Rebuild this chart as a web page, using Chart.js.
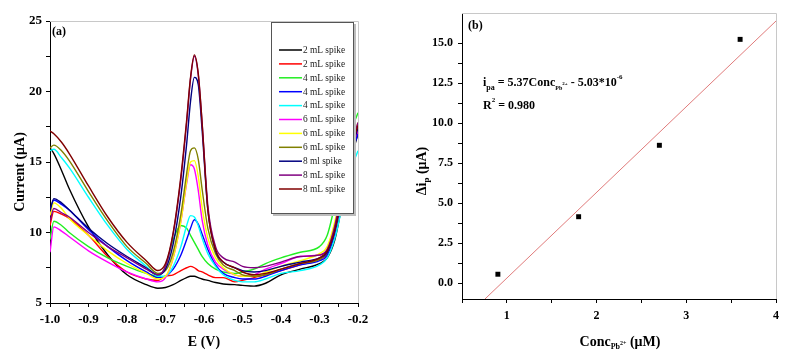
<!DOCTYPE html>
<html>
<head>
<meta charset="utf-8">
<script src="https://cdn.jsdelivr.net/npm/chart.js@4.4.1/dist/chart.umd.min.js"></script>
<style>
  html, body { margin: 0; padding: 0; background: #fff; }
  #wrap { position: relative; width: 791px; height: 357px; }
  #chartA { position: absolute; left: 0; top: 0; }
  #chartB { position: absolute; left: 400px; top: 0; }
</style>
</head>
<body>
<div id="wrap">
  <canvas id="chartA" width="400" height="357"></canvas>
  <canvas id="chartB" width="391" height="357"></canvas>
</div>
<script>
// (a) voltammogrammes - potencial comum a todas as curvas
const potentialV = [-1.0, -0.99, -0.97, -0.95, -0.9, -0.85, -0.8, -0.75, -0.72, -0.70, -0.68, -0.66,
  -0.645, -0.635, -0.625, -0.615, -0.605, -0.59, -0.57, -0.55, -0.52, -0.50, -0.47, -0.44,
  -0.40, -0.35, -0.30, -0.28, -0.26, -0.24, -0.22, -0.20];

const spikeLabels = ['2 mL spike', '2 mL spike', '4 mL spike', '4 mL spike', '4 mL spike',
  '6 mL spike', '6 mL spike', '6 mL spike', '8 ml spike', '8 mL spike', '8 mL spike'];

const black2 = [16.0, 15.6, 14.4, 13.1, 10.4, 8.4, 7.0, 6.3, 6.05, 6.1, 6.3, 6.6, 6.8, 6.9, 6.9, 6.8, 6.7, 6.6, 6.45, 6.35, 6.3, 6.25, 6.2, 6.4, 7.0, 7.4, 7.8, 8.2, 9.5, 12.2, 15.0, 17.0];
const red2 = [10.5, 11.5, 11.3, 11.0, 9.8, 8.3, 7.2, 6.7, 6.6, 6.9, 7.0, 7.3, 7.5, 7.6, 7.5, 7.3, 7.2, 7.0, 6.8, 6.8, 6.5, 6.6, 6.8, 7.0, 7.3, 7.7, 8.1, 8.5, 10.0, 12.8, 15.4, 17.2];
const green4 = [9.5, 10.8, 10.5, 10.0, 9.0, 8.2, 7.6, 7.1, 6.9, 7.6, 9.5, 10.5, 10.3, 9.8, 9.3, 8.8, 8.3, 7.8, 7.4, 7.2, 7.1, 7.2, 7.4, 7.8, 8.2, 8.6, 9.0, 9.8, 12.0, 14.8, 17.0, 18.5];
const blue4 = [11.5, 12.3, 12.0, 11.6, 10.2, 9.0, 8.0, 7.2, 6.8, 6.9, 7.4, 8.4, 9.5, 10.3, 10.9, 10.6, 9.9, 8.8, 7.7, 7.1, 6.8, 6.7, 6.7, 6.9, 7.3, 7.7, 8.0, 8.4, 10.0, 12.8, 15.3, 17.0];
const cyan4 = [15.8, 15.9, 15.3, 14.6, 12.5, 10.5, 8.8, 7.6, 6.9, 6.9, 7.6, 9.0, 10.5, 11.2, 11.1, 10.5, 9.6, 8.5, 7.6, 7.0, 6.6, 6.5, 6.5, 6.7, 7.1, 7.3, 7.7, 8.2, 9.6, 12.0, 14.3, 15.8];
const magenta6 = [8.6, 10.4, 10.1, 9.7, 8.7, 7.9, 7.2, 6.7, 6.5, 6.8, 8.2, 10.8, 13.5, 14.8, 14.5, 13.0, 10.9, 9.1, 7.9, 7.4, 7.0, 6.9, 7.0, 7.4, 7.8, 8.3, 8.4, 8.8, 10.5, 13.2, 15.7, 17.3];
const yellow6 = [11.2, 12.1, 11.7, 11.0, 9.8, 8.7, 7.8, 7.1, 6.7, 6.9, 8.2, 10.8, 13.6, 15.0, 15.1, 14.0, 11.8, 9.6, 8.2, 7.5, 7.0, 6.9, 6.9, 7.2, 7.6, 8.0, 8.5, 9.0, 10.8, 13.5, 16.0, 17.8];
const olive6 = [16.0, 16.2, 15.8, 15.1, 12.9, 10.8, 9.0, 7.8, 7.1, 7.3, 8.6, 11.3, 14.2, 15.8, 16.0, 15.2, 13.1, 10.3, 8.5, 7.7, 7.3, 7.0, 6.9, 7.0, 7.4, 7.8, 8.1, 8.6, 10.3, 13.2, 15.9, 17.5];
const navy8 = [11.5, 12.4, 12.1, 11.6, 10.3, 9.2, 8.3, 7.5, 7.0, 7.4, 9.2, 12.6, 16.3, 19.3, 21.0, 20.5, 17.3, 11.6, 8.7, 7.9, 7.5, 7.3, 7.2, 7.3, 7.6, 7.9, 8.2, 8.6, 10.2, 13.0, 15.6, 17.4];
const purple8 = [10.8, 11.7, 11.4, 11.1, 10.0, 9.0, 8.2, 7.4, 7.0, 7.6, 9.9, 13.8, 17.8, 20.9, 22.5, 21.2, 17.8, 11.9, 9.0, 8.2, 7.9, 7.6, 7.5, 7.6, 7.9, 8.3, 8.4, 8.8, 10.5, 13.4, 16.0, 17.8];
const maroon8 = [17.2, 17.0, 16.4, 15.6, 13.3, 11.1, 9.3, 8.0, 7.3, 7.8, 10.0, 14.0, 18.0, 21.0, 22.6, 21.3, 17.8, 11.6, 8.8, 7.9, 7.5, 7.2, 7.0, 7.1, 7.4, 7.8, 8.2, 8.7, 10.2, 13.0, 15.8, 17.6];

const spikeCurves = [black2, red2, green4, blue4, cyan4, magenta6, yellow6, olive6, navy8, purple8, maroon8];
const curveColors = ['#000000', '#ff0000', '#22ee22', '#0000ff', '#00ffff', '#ff00ff', '#ffff00', '#808000', '#000080', '#800080', '#800000'];

// (b) calibração
const concPb = [0.9, 1.8, 2.7, 3.6];
const deltaIp = [0.55, 4.15, 8.62, 15.25];
const fitConc = [0.756, 4.0];
const fitIp = [-1.0, 16.4];

const serif = '"Liberation Serif", "Times New Roman", serif';

// Texto com índices / expoentes: parts = [texto, tamanho, deslocamento]
function drawRich(ctx, parts, x, y, align, angle, weight, sx, color) {
    ctx.save();
    ctx.translate(x, y);
    ctx.rotate(angle || 0);
    ctx.scale(sx || 1, 1);
    ctx.textBaseline = 'middle';
    ctx.textAlign = 'left';
    ctx.fillStyle = color || '#000';
    const fontOf = size => (weight || 'bold') + ' ' + size + 'px ' + serif;
    let width = 0;
    parts.forEach(p => { ctx.font = fontOf(p[1]); width += ctx.measureText(p[0]).width; });
    let cx = align === 'center' ? -width / 2 : 0;
    parts.forEach(p => {
        ctx.font = fontOf(p[1]);
        ctx.fillText(p[0], cx, p[2] || 0);
        cx += ctx.measureText(p[0]).width;
    });
    ctx.restore();
}

// Moldura cinza em cima e à direita
const frame = {
    id: 'frame',
    beforeDatasetsDraw(chart) {
        const { ctx, chartArea: a } = chart;
        ctx.save();
        ctx.strokeStyle = '#c8c8c8';
        ctx.lineWidth = 1;
        ctx.beginPath();
        ctx.moveTo(a.left, a.top + 0.5);
        ctx.lineTo(a.right + 0.5, a.top + 0.5);
        ctx.lineTo(a.right + 0.5, a.bottom);
        ctx.stroke();
        ctx.restore();
    }
};

// Legenda em caixa dentro do gráfico (a)
const spikeLegend = {
    id: 'spikeLegend',
    afterDatasetsDraw(chart) {
        const ctx = chart.ctx;
        ctx.save();
        ctx.fillStyle = '#bdbdbd';
        ctx.fillRect(273, 24, 83, 192);
        ctx.fillStyle = '#fff';
        ctx.fillRect(271, 22, 83, 192);
        ctx.strokeStyle = '#555';
        ctx.lineWidth = 1;
        ctx.strokeRect(271.5, 22.5, 82, 191);
        chart.data.datasets.forEach((ds, i) => {
            const y = 50 + i * 13.9;
            ctx.strokeStyle = ds.borderColor;
            ctx.lineWidth = 1.5;
            ctx.beginPath();
            ctx.moveTo(279, y);
            ctx.lineTo(302, y);
            ctx.stroke();
            drawRich(ctx, [[ds.label, 11, 0]], 303, y, 'left', 0, 'normal', 0.85, '#222');
        });
        ctx.restore();
    }
};

const textsA = {
    id: 'textsA',
    afterDraw(chart) {
        const ctx = chart.ctx;
        drawRich(ctx, [['(a)', 12, 0]], 52, 32, 'left');
        drawRich(ctx, [['Current (μA)', 14, 0]], 20, 172, 'center', -Math.PI / 2);
        drawRich(ctx, [['E (V)', 14, 0]], 204, 342, 'center');
    }
};

const textsB = {
    id: 'textsB',
    afterDraw(chart) {
        const ctx = chart.ctx;
        drawRich(ctx, [['(b)', 12, 0]], 68, 26, 'left');
        drawRich(ctx, [['i', 12, 0], ['pa', 8, 5], [' = 5.37Conc', 12, 0], ['Pb', 6, 5], ['2+', 5, 1],
            [' - 5.03*10', 12, 0], ['-6', 7, -6]], 83, 83, 'left');
        drawRich(ctx, [['R', 12, 0], ['2', 7, -6], [' = 0.980', 12, 0]], 83, 106, 'left');
        drawRich(ctx, [['Δi', 14, 0], ['p', 9, 5], [' (μA)', 14, 0]], 22, 171, 'center', -Math.PI / 2);
        drawRich(ctx, [['Conc', 14, 0], ['Pb', 8, 5], ['2+', 6, 1], [' (μM)', 14, 0]], 220, 342, 'center');
    }
};

function axisStyle(size) {
    return {
        grid: { drawOnChartArea: false, tickLength: 4, color: '#000' },
        border: { color: '#000', width: 1 },
        font: { family: serif, size: size, weight: 'bold' }
    };
}

// Gráfico (a)
const sA = axisStyle(13);
new Chart(document.getElementById('chartA'), {
    type: 'line',
    data: {
        datasets: spikeCurves.map((vals, i) => ({
            label: spikeLabels[i],
            data: potentialV.map((e, k) => ({ x: e, y: vals[k] })),
            borderColor: curveColors[i],
            borderWidth: 1.4,
            pointRadius: 0,
            fill: false,
            cubicInterpolationMode: 'monotone',
            order: -i
        }))
    },
    options: {
        responsive: false,
        animation: false,
        events: [],
        layout: { padding: { top: 21, right: 42, left: 0, bottom: 0 } },
        plugins: { legend: { display: false }, tooltip: { enabled: false } },
        scales: {
            x: {
                type: 'linear', min: -1, max: -0.2,
                afterFit: s => { s.height = 54; },
                grid: sA.grid, border: sA.border,
                ticks: {
                    stepSize: 0.05, autoSkip: false, maxRotation: 0, padding: 5,
                    color: '#000', font: sA.font,
                    callback: v => {
                        const k = Math.round(v * 100);
                        return k % 10 === 0 ? (k / 100).toFixed(1) : '';
                    }
                }
            },
            y: {
                min: 5, max: 25,
                afterFit: s => { s.width = 50; },
                grid: sA.grid, border: sA.border,
                ticks: {
                    stepSize: 2.5, autoSkip: false, padding: 4,
                    color: '#000', font: sA.font,
                    callback: v => (v % 5 === 0 ? String(v) : '')
                }
            }
        }
    },
    plugins: [frame, spikeLegend, textsA]
});

// Gráfico (b)
const sB = axisStyle(12);
new Chart(document.getElementById('chartB'), {
    type: 'scatter',
    data: {
        datasets: [
            {
                data: concPb.map((c, i) => ({ x: c, y: deltaIp[i] })),
                pointStyle: 'rect',
                pointRadius: 3.5,
                backgroundColor: '#000',
                borderColor: '#000',
                borderWidth: 0
            },
            {
                type: 'line',
                data: fitConc.map((c, i) => ({ x: c, y: fitIp[i] })),
                borderColor: '#e07b7b',
                borderWidth: 1,
                pointRadius: 0,
                fill: false
            }
        ]
    },
    options: {
        responsive: false,
        animation: false,
        events: [],
        layout: { padding: { top: 13, right: 15, left: 0, bottom: 0 } },
        plugins: { legend: { display: false }, tooltip: { enabled: false } },
        scales: {
            x: {
                type: 'linear', min: 0.5, max: 4,
                afterFit: s => { s.height = 58; },
                grid: sB.grid, border: sB.border,
                ticks: {
                    stepSize: 0.5, autoSkip: false, maxRotation: 0, padding: 6,
                    color: '#000', font: sB.font,
                    callback: v => (Number.isInteger(v) ? String(v) : '')
                }
            },
            y: {
                min: -1, max: 16.9,
                afterFit: s => { s.width = 62; },
                afterBuildTicks: s => {
                    s.ticks = s.ticks.filter(t => Math.abs(t.value / 1.25 - Math.round(t.value / 1.25)) < 1e-6);
                },
                grid: sB.grid, border: sB.border,
                ticks: {
                    stepSize: 1.25, autoSkip: false, padding: 5,
                    color: '#000', font: sB.font,
                    callback: v => (Math.abs(v / 2.5 - Math.round(v / 2.5)) < 1e-6 ? v.toFixed(1) : '')
                }
            }
        }
    },
    plugins: [frame, textsB]
});
</script>
</body>
</html>
